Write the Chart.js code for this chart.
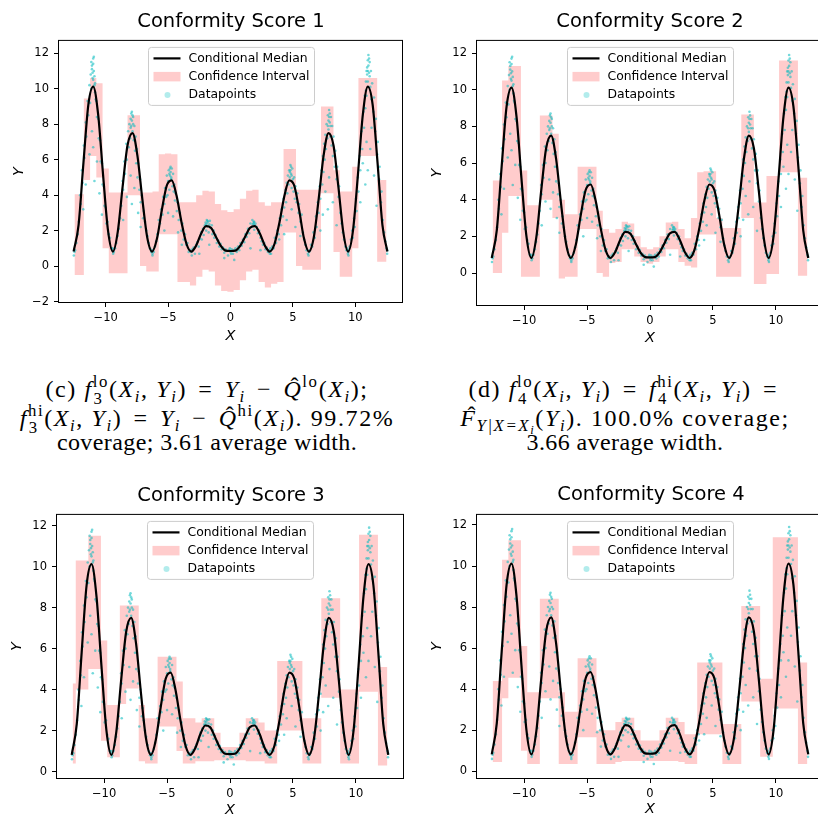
<!DOCTYPE html>
<html>
<head>
<meta charset="utf-8">
<script src="https://cdn.jsdelivr.net/npm/chart.js@4.4.1/dist/chart.umd.min.js"></script>
<style>
  html, body { margin: 0; padding: 0; background: #fff; }
  body { width: 818px; height: 819px; position: relative; overflow: hidden; font-family: "DejaVu Sans", sans-serif; }
  canvas { position: absolute; }
  .ttl { position: absolute; width: 300px; text-align: center; font-size: 19.5px; line-height: 22px; color: #000; white-space: nowrap; }
  .cap { position: absolute; width: 460px; text-align: center; font-family: "Liberation Serif", serif; font-size: 24px; line-height: 24px; white-space: nowrap; letter-spacing: 0.4px; color: #000; }
  .cap.math { letter-spacing: 1.6px; }
  .cap i { font-style: italic; }
  .op { margin: 0 0.15em; }
  .ss { position: relative; display: inline-block; font-size: 0.7em; line-height: 1; }
  .ss .a { position: relative; top: -0.62em; }
  .ss .b { position: absolute; left: 0.05em; top: 0.42em; }
  .sb { position: relative; top: 0.3em; font-size: 0.7em; font-style: italic; }
  .sb .sb2 { position: relative; top: 0.25em; font-size: 0.75em; }
  .sp { position: relative; top: -0.6em; font-size: 0.7em; }
  .hat { position: relative; display: inline-block; }
  .hc { position: absolute; left: 0.3em; top: -0.12em; font-style: normal; }
</style>
</head>
<body>
<canvas id="c1" width="410" height="320" style="left:0;top:28px"></canvas>
<canvas id="c2" width="420" height="320" style="left:410px;top:28px"></canvas>
<canvas id="c3" width="410" height="317" style="left:0;top:502px"></canvas>
<canvas id="c4" width="420" height="317" style="left:410px;top:502px"></canvas>

<div class="ttl" style="left:81px;top:10px">Conformity Score 1</div>
<div class="ttl" style="left:500px;top:10px">Conformity Score 2</div>
<div class="ttl" style="left:81px;top:484px">Conformity Score 3</div>
<div class="ttl" style="left:501px;top:483px">Conformity Score 4</div>

<div class="cap math" style="left:-23px;top:377px">(c) <i>f</i><span class="ss"><span class="a">lo</span><span class="b">3</span></span>(<i>X</i><span class="sb">i</span>, <i>Y</i><span class="sb">i</span>) <span class="op">=</span> <i>Y</i><span class="sb">i</span> <span class="op">−</span> <span class="hat"><i>Q</i><span class="hc">ˆ</span></span><span class="sp">lo</span>(<i>X</i><span class="sb">i</span>);</div>
<div class="cap math" style="left:-23px;top:406px"><i>f</i><span class="ss"><span class="a">hi</span><span class="b">3</span></span>(<i>X</i><span class="sb">i</span>, <i>Y</i><span class="sb">i</span>) <span class="op">=</span> <i>Y</i><span class="sb">i</span> <span class="op">−</span> <span class="hat"><i>Q</i><span class="hc">ˆ</span></span><span class="sp">hi</span>(<i>X</i><span class="sb">i</span>). 99.72%</div>
<div class="cap" style="left:-23px;top:430px">coverage; 3.61 average width.</div>

<div class="cap math" style="left:395px;top:377px">(d) <i>f</i><span class="ss"><span class="a">lo</span><span class="b">4</span></span>(<i>X</i><span class="sb">i</span>, <i>Y</i><span class="sb">i</span>) <span class="op">=</span> <i>f</i><span class="ss"><span class="a">hi</span><span class="b">4</span></span>(<i>X</i><span class="sb">i</span>, <i>Y</i><span class="sb">i</span>) <span class="op">=</span></div>
<div class="cap math" style="left:395px;top:406px"><span class="hat"><i>F</i><span class="hc">ˆ</span></span><span class="sb">Y|X=X<span class="sb2">i</span></span>(<i>Y</i><span class="sb">i</span>). 100.0% coverage;</div>
<div class="cap" style="left:395px;top:430px">3.66 average width.</div>

<script>
// conditional median
const medianX = [-12.57,-12.17,-11.78,-11.39,-11.00,-10.60,-10.21,-9.82,-9.42,-9.03,-8.64,-8.25,-7.85,-7.46,-7.07,-6.68,-6.28,-5.89,-5.50,-5.11,-4.71,-4.32,-3.93,-3.53,-3.14,-2.75,-2.36,-1.96,-1.57,-1.18,-0.79,-0.39,0,
  0.39,0.79,1.18,1.57,1.96,2.36,2.75,3.14,3.53,3.93,4.32,4.71,5.11,5.50,5.89,6.28,6.68,7.07,7.46,7.85,8.25,8.64,9.03,9.42,9.82,10.21,10.60,11.00,11.39,11.78,12.17,12.57];
const medianY = [0.82,2.33,5.83,9.09,10.12,8.52,5.16,2.04,0.82,1.94,4.49,6.81,7.50,6.24,3.82,1.65,0.82,1.55,3.16,4.53,4.83,3.96,2.49,1.26,0.82,1.16,1.82,2.25,2.16,1.67,1.15,0.87,0.85,
  0.87,1.15,1.67,2.16,2.25,1.82,1.16,0.82,1.26,2.49,3.96,4.83,4.53,3.16,1.55,0.82,1.65,3.82,6.24,7.50,6.81,4.49,1.94,0.82,2.04,5.16,8.52,10.12,9.09,5.83,2.33,0.82];

// confidence interval bins
const bandX = [-12.5,-12,-11.5,-11,-10.5,-10,-9.5,-9,-8.5,-8,-7.5,-7,-6.5,-6,-5.5,-5,-4.5,-4,-3.5,-3,-2.5,-2,-1.5,-1,-0.5,0,
  0.5,1,1.5,2,2.5,3,3.5,4,4.5,5,5.5,6,6.5,7,7.5,8,8.5,9,9.5,10,10.5,11,11.5,12,12.5];

const upper1 = [4.05,4.05,9.45,10.6,10.3,5.5,4.15,4.15,4.15,8.5,8.5,4.15,4.15,4.2,6.3,6.35,6.3,3.6,3.6,3.6,4.0,4.25,4.2,3.5,3.15,3.05,
  3.2,3.8,4.25,4.3,3.6,3.4,3.6,3.6,6.6,6.6,4.3,4.3,4.3,4.3,9.0,9.0,5.4,4.2,4.2,5.6,10.6,10.6,10.6,4.85,4.85];
const lower1 = [-0.5,-0.5,4.85,6.2,5.0,1.0,-0.4,-0.4,-0.4,4.0,4.0,0.0,-0.3,-0.3,1.8,1.8,1.8,-0.9,-0.9,-1.1,-0.6,-0.2,-0.3,-1.1,-1.4,-1.45,
  -1.35,-0.8,-0.3,-0.2,-0.9,-1.2,-1.0,-0.9,1.9,1.9,0.0,-0.2,-0.2,-0.2,4.1,4.1,0.8,-0.6,-0.6,1.0,6.2,6.2,6.2,0.25,0.25];

const upper2 = [5.05,5.05,10.5,11.3,11.3,5.6,3.7,3.7,8.6,8.6,7.6,4.0,3.2,3.2,5.8,5.8,5.8,3.4,2.4,2.2,2.4,2.8,2.7,2.0,1.4,1.3,
  1.4,2.0,2.75,2.8,2.4,1.9,3.0,5.5,5.55,5.55,3.0,2.45,2.45,2.45,8.65,8.65,3.85,3.85,5.3,5.3,11.6,11.6,11.6,5.2,5.2];
const lower2 = [0.0,0.0,2.2,4.2,4.2,-0.2,-0.2,-0.2,4.0,4.0,3.0,-0.3,-0.2,-0.2,2.4,2.4,2.4,0.0,-0.2,0.55,0.6,1.3,1.3,0.9,0.6,0.5,
  0.6,0.9,1.3,1.3,0.6,0.4,0.3,2.1,2.1,2.1,-0.2,-0.2,-0.2,-0.2,3.0,3.0,-0.6,-0.6,-0.05,-0.05,5.5,5.5,5.5,-0.15,-0.15];

const upper3 = [4.3,10.3,10.3,11.5,11.5,6.4,3.25,3.25,8.1,8.1,8.1,3.25,2.6,2.6,5.6,5.6,5.6,4.4,2.6,2.6,2.4,2.6,2.6,1.9,1.2,1.2,
  1.2,1.9,2.6,2.6,2.4,2.0,2.0,5.4,5.4,5.4,5.4,2.6,2.6,2.6,8.45,8.45,8.45,4.0,4.0,4.0,11.55,11.55,11.55,5.1,5.1];
const lower3 = [0.4,4.0,4.0,5.0,5.0,1.5,0.7,0.7,3.3,4.05,4.05,0.5,0.4,0.4,2.2,2.2,2.2,1.0,0.4,0.4,0.5,0.5,0.5,0.55,0.55,0.55,
  0.55,0.55,0.5,0.5,0.5,0.4,0.4,2.0,2.0,2.0,2.0,0.4,0.4,0.4,3.6,3.6,3.6,0.4,0.4,0.4,3.9,3.9,3.9,0.3,0.3];

const upper4 = [4.4,4.4,10.3,11.25,11.25,6.1,3.85,3.85,8.4,8.4,8.4,3.85,2.9,2.9,5.5,5.5,5.5,2.0,2.0,2.0,2.4,2.6,2.6,2.0,1.5,1.5,
  1.5,2.0,2.6,2.6,2.4,1.8,1.8,5.3,5.3,5.3,5.3,2.3,2.3,2.3,8.05,8.05,8.05,4.5,4.5,11.4,11.4,11.4,11.4,5.3,5.3];
const lower4 = [0.45,0.45,3.55,4.55,4.55,1.0,0.35,0.35,3.55,3.55,3.55,0.35,0.35,0.35,1.65,1.65,1.65,0.35,0.35,0.35,0.45,0.5,0.5,0.5,0.5,0.5,
  0.5,0.5,0.5,0.5,0.45,0.35,0.35,1.8,1.8,1.8,1.8,0.35,0.35,0.35,3.4,3.4,3.4,0.7,0.7,3.05,3.05,3.05,3.05,0.35,0.35];

// datapoints (a representative subset of the cloud)
const dataX = [
  -3.05,-2.95,-2.85,-2.75,-2.65,-2.55,-2.45,-2.35,-2.3,-2.2,
  -2.15,-2.05,-2.0,-1.95,-1.9,-1.85,-1.8,-1.75,-1.7,-1.65,
  -1.6,-1.5,-1.45,-1.35,-1.3,-1.2,-1.1,-1.0,-0.9,-0.8,
  -0.7,-0.6,-0.5,-0.4,-0.3,-0.2,-0.1,0.0,0.1,0.2,
  0.3,0.4,0.5,0.6,0.7,0.8,0.9,1.0,1.1,1.2,
  1.3,1.4,1.5,1.6,1.7,1.75,1.8,1.85,1.9,2.0,
  2.1,2.2,2.3,2.4,2.5,2.6,2.7,2.8,2.9,3.0,
  3.1,-0.5,0.3,1.6,-1.7,2.4,-2.5,
  3.25,3.35,3.45,3.55,3.65,3.75,3.85,3.95,4.05,4.1,
  4.2,4.25,4.3,4.4,4.45,4.5,4.55,4.6,4.65,4.7,
  4.75,4.8,4.85,4.9,4.95,5.0,5.05,5.1,5.15,5.2,
  5.3,5.35,5.45,5.5,5.6,5.7,5.8,5.9,6.0,6.1,
  6.2,4.5,4.9,5.2,4.3,3.9,5.6,
  -3.25,-3.35,-3.45,-3.55,-3.65,-3.75,-3.85,-3.95,-4.05,-4.15,
  -4.25,-4.3,-4.4,-4.45,-4.5,-4.55,-4.6,-4.65,-4.7,-4.75,
  -4.8,-4.85,-4.9,-4.95,-5.0,-5.05,-5.1,-5.15,-5.25,-5.3,
  -5.4,-5.45,-5.55,-5.65,-5.75,-5.85,-5.95,-6.05,-6.15,-6.25,
  -4.6,-5.0,-4.2,-5.3,-3.9,
  6.35,6.45,6.55,6.65,6.75,6.85,6.9,7.0,7.05,7.15,
  7.2,7.3,7.35,7.4,7.45,7.5,7.55,7.6,7.65,7.7,
  7.75,7.8,7.85,7.9,7.95,8.0,8.05,8.1,8.15,8.2,
  8.25,8.35,8.4,8.5,8.55,8.65,8.7,8.8,8.9,9.0,
  9.1,9.2,9.3,9.4,7.6,7.9,8.2,7.4,8.5,7.8,7.2,
  -6.35,-6.45,-6.55,-6.65,-6.75,-6.85,-6.95,-7.0,-7.1,-7.2,
  -7.25,-7.3,-7.4,-7.45,-7.5,-7.55,-7.6,-7.65,-7.7,-7.75,
  -7.8,-7.85,-7.9,-7.95,-8.0,-8.05,-8.1,-8.15,-8.2,-8.3,
  -8.35,-8.45,-8.5,-8.6,-8.65,-8.75,-8.85,-8.95,-9.05,-9.15,
  -9.25,-9.35,-7.7,-8.0,-7.4,-8.3,-7.9,-8.6,-7.2,
  9.45,9.55,9.65,9.75,9.8,9.9,9.95,10.05,10.1,10.2,
  10.25,10.35,10.4,10.5,10.55,10.65,10.7,10.75,10.8,10.85,
  10.9,10.95,11.0,11.05,11.1,11.15,11.2,11.25,11.3,11.35,
  11.45,11.5,11.6,11.65,11.75,11.8,11.9,11.95,12.05,12.1,
  12.2,12.3,12.4,12.5,12.55,10.6,10.9,11.2,11.0,11.5,
  10.4,11.7,10.8,11.3,
  -9.45,-9.55,-9.65,-9.75,-9.85,-9.95,-10.0,-10.1,-10.15,-10.25,
  -10.3,-10.4,-10.45,-10.55,-10.6,-10.7,-10.75,-10.8,-10.85,-10.9,
  -10.95,-11.0,-11.05,-11.1,-11.15,-11.2,-11.25,-11.3,-11.4,-11.45,
  -11.55,-11.6,-11.7,-11.75,-11.85,-11.9,-12.0,-12.05,-12.15,-12.25,
  -12.35,-12.45,-12.55,-10.7,-11.0,-11.3,-10.9,-11.6,-10.5,-11.8,
  -11.1,-10.3,
  11.0,10.95,11.05,10.9,11.1,11.0,10.85,11.15,-11.0,-10.95,-11.05,-10.9,-11.1,-11.0,-10.85,-11.15,
  7.9,7.85,7.95,8.0,7.8,-7.9,-7.85,-7.95,-8.0,-7.8,
  4.8,4.85,4.75,4.9,-4.8,-4.85,-4.75,-4.9,
  1.9,1.85,1.95,-1.9,-1.85,-1.95,
  9.4,9.45,9.35,-9.4,-9.45,6.3,6.25,-6.3,-6.25,3.15,3.2,-3.15,-3.1,12.55,-12.5,0.05,-0.05,0.15
];
const dataY = [
  0.95,1.05,0.7,1.2,1.35,1.1,1.55,1.9,1.5,2.1,
  1.75,2.3,2.45,2.0,2.6,2.25,2.5,1.9,2.35,2.55,
  2.15,2.3,1.8,2.0,1.6,1.75,1.3,1.45,1.1,1.25,
  0.95,1.05,0.75,0.95,0.85,0.6,0.9,0.8,0.95,0.7,
  0.9,1.0,0.8,1.1,0.9,1.3,1.15,1.5,1.35,1.8,
  1.65,2.1,1.85,2.4,2.2,2.6,2.35,2.5,2.05,2.4,
  2.2,1.85,2.0,1.6,1.4,1.2,1.3,0.95,1.05,0.8,
  0.9,0.45,0.35,1.0,1.2,0.9,0.7,
  0.7,1.1,1.0,1.6,1.3,2.0,1.8,2.7,2.3,3.2,
  2.8,3.8,3.3,4.3,3.6,4.7,4.1,5.1,4.6,5.4,
  5.0,5.7,5.2,4.4,5.5,4.9,4.2,5.0,3.8,4.5,
  3.6,4.1,3.0,3.5,2.5,2.9,1.9,1.5,1.2,0.9,
  0.7,2.6,3.2,2.2,1.8,1.5,1.7,
  0.9,0.8,1.3,1.2,1.8,1.5,2.4,2.0,3.0,2.6,
  3.6,3.1,4.1,3.7,4.6,4.2,5.2,4.5,5.5,4.9,
  5.6,5.1,4.3,5.4,4.8,4.0,5.1,3.9,4.4,3.5,
  3.9,2.9,3.2,2.4,2.6,1.8,1.4,1.1,0.8,0.6,
  2.8,3.0,1.9,2.0,1.2,
  0.9,1.2,1.1,1.9,1.6,2.8,2.2,3.6,3.0,4.5,
  3.8,5.4,4.6,6.2,5.3,6.9,6.0,7.4,6.6,8.0,
  7.2,8.5,7.7,8.8,8.1,7.3,8.4,6.8,7.9,6.2,
  7.3,5.6,6.5,4.9,5.6,3.9,4.5,3.0,2.4,1.9,
  1.5,1.1,0.9,0.7,4.2,5.0,3.6,2.9,2.3,3.2,2.0,
  0.8,1.0,1.3,1.7,2.0,2.5,3.1,2.7,4.0,3.6,
  4.9,4.3,5.8,5.0,6.6,5.8,7.3,6.5,7.9,7.1,
  8.4,7.6,8.7,7.9,8.3,7.2,8.0,6.7,7.6,6.0,
  6.9,5.2,5.9,4.3,4.8,3.4,2.7,2.1,1.7,1.3,
  1.0,0.8,4.4,5.1,3.0,3.9,3.5,2.6,2.2,
  0.8,1.1,1.5,2.0,1.6,2.7,2.2,3.8,3.1,5.0,
  4.2,6.2,5.4,7.6,6.6,8.7,7.8,9.6,8.9,10.4,
  9.6,11.2,10.4,11.9,10.9,11.5,10.1,11.0,9.4,10.3,
  8.7,9.5,7.6,8.3,6.3,7.0,4.9,5.6,3.6,4.2,
  2.6,1.9,1.4,1.0,0.7,5.8,7.0,6.6,5.4,5.1,
  3.6,3.4,4.6,7.8,
  0.9,1.0,1.6,1.8,2.5,2.4,3.3,3.4,4.5,4.6,
  5.8,5.9,7.1,7.2,8.3,8.4,9.3,9.4,10.3,10.2,
  11.0,11.7,10.6,11.3,10.0,10.8,9.2,10.2,8.5,9.3,
  7.3,8.1,6.1,6.8,4.7,5.4,3.5,4.0,2.5,1.8,
  1.3,0.9,0.6,5.9,6.7,6.3,4.8,4.6,4.1,3.2,
  7.6,2.9,
  11.6,10.8,11.3,11.0,11.7,11.0,9.9,10.7,11.4,11.8,10.9,10.7,11.1,10.5,9.8,11.5,
  8.4,8.2,8.6,7.9,7.9,8.2,8.5,8.6,7.8,8.0,
  5.4,5.6,5.3,5.1,5.3,5.5,5.0,5.2,
  2.5,2.4,2.3,2.4,2.55,2.3,
  0.9,0.6,1.0,0.7,1.0,0.8,0.6,0.9,0.7,0.7,1.0,0.8,0.6,0.9,0.8,0.7,1.0,0.85
];

const uppers = [upper1, upper2, upper3, upper4];
const lowers = [lower1, lower2, lower3, lower4];
const yRanges = [[-2.08, 12.75], [-1.80, 12.72], [-0.36, 12.57], [-0.38, 12.54]];

// layout of each panel (pixels)
const panels = [
  { id: 'c1', pad: { top: 5, right: 7, left: 0, bottom: 0 }, yW: 58, xH: 45, xTitlePad: 2.6, yTitlePad: 10.3 },
  { id: 'c2', pad: { top: 6, right: 6, left: 0, bottom: 0 }, yW: 66, xH: 42, xTitlePad: 1.3, yTitlePad: 18.6 },
  { id: 'c3', pad: { top: 7, right: 6, left: 0, bottom: 0 }, yW: 56, xH: 40, xTitlePad: 0.3, yTitlePad: 9 },
  { id: 'c4', pad: { top: 6, right: 6, left: 0, bottom: 0 }, yW: 66, xH: 40, xTitlePad: 0.8, yTitlePad: 18.6 }
];

const PINK = '#ffcccc';
const CYAN = 'rgba(0,186,190,0.55)';
const minus = v => String(v).replace('-', '\u2212');

// matplotlib-like frame on all four sides
const frame = {
  id: 'frame',
  afterDatasetsDraw(chart) {
    const { ctx, chartArea: a } = chart;
    ctx.save();
    ctx.strokeStyle = '#000';
    ctx.lineWidth = 1;
    ctx.strokeRect(a.left + 0.5, a.top + 0.5, a.right - a.left - 1, a.bottom - a.top - 1);
    ctx.restore();
  }
};

// legend box inside the axes, upper center
const boxLegend = {
  id: 'boxLegend',
  afterDraw(chart) {
    const { ctx, chartArea: a } = chart;
    const w = 166, h = 58;
    const x0 = Math.round((a.left + a.right) / 2 - w / 2) + 0.5;
    const y0 = a.top + 7.5;
    ctx.save();
    ctx.beginPath();
    ctx.roundRect(x0, y0, w, h, 3);
    ctx.fillStyle = 'rgba(255,255,255,0.8)';
    ctx.fill();
    ctx.strokeStyle = '#cccccc';
    ctx.lineWidth = 1;
    ctx.stroke();

    ctx.beginPath();
    ctx.moveTo(x0 + 5, y0 + 11);
    ctx.lineTo(x0 + 32, y0 + 11);
    ctx.strokeStyle = '#000';
    ctx.lineWidth = 2.2;
    ctx.stroke();

    ctx.fillStyle = PINK;
    ctx.fillRect(x0 + 5, y0 + 24.5, 27, 9.5);

    ctx.beginPath();
    ctx.arc(x0 + 19, y0 + 47.5, 3, 0, Math.PI * 2);
    ctx.fillStyle = 'rgba(0,191,191,0.3)';
    ctx.fill();

    ctx.fillStyle = '#000';
    ctx.font = '12.4px "DejaVu Sans"';
    ctx.textBaseline = 'middle';
    ctx.fillText('Conditional Median', x0 + 40, y0 + 11);
    ctx.fillText('Confidence Interval', x0 + 40, y0 + 29.5);
    ctx.fillText('Datapoints', x0 + 40, y0 + 47.5);
    ctx.restore();
  }
};

function makeChart(k) {
  const p = panels[k];
  const tickFont = { family: 'DejaVu Sans', size: 11.5 };
  const titleFont = { family: 'DejaVu Sans', size: 14.5, style: 'italic' };
  return new Chart(document.getElementById(p.id), {
    type: 'line',
    data: {
      datasets: [
        {
          type: 'line',
          data: medianX.map((x, i) => ({ x, y: medianY[i] })),
          borderColor: '#000',
          borderWidth: 2.2,
          pointRadius: 0,
          cubicInterpolationMode: 'monotone',
          fill: false,
          order: 0
        },
        {
          type: 'scatter',
          data: dataX.map((x, i) => ({ x, y: dataY[i] })),
          backgroundColor: CYAN,
          borderWidth: 0,
          pointRadius: 1.3,
          showLine: false,
          order: 1
        },
        {
          type: 'line',
          data: bandX.map((x, i) => ({ x, y: uppers[k][i] })),
          stepped: 'middle',
          borderColor: 'rgba(0,0,0,0)',
          borderWidth: 0,
          pointRadius: 0,
          backgroundColor: PINK,
          fill: '+1',
          order: 2
        },
        {
          type: 'line',
          data: bandX.map((x, i) => ({ x, y: lowers[k][i] })),
          stepped: 'middle',
          borderColor: 'rgba(0,0,0,0)',
          borderWidth: 0,
          pointRadius: 0,
          fill: false,
          order: 3
        }
      ]
    },
    options: {
      responsive: false,
      animation: false,
      events: [],
      layout: { padding: p.pad },
      plugins: { legend: { display: false }, tooltip: { enabled: false } },
      scales: {
        x: {
          type: 'linear',
          min: -13.82,
          max: 13.82,
          ticks: { stepSize: 5, includeBounds: false, color: '#000', font: tickFont, padding: 4, maxRotation: 0, callback: minus },
          grid: { drawOnChartArea: false, tickLength: 4, tickColor: '#000' },
          border: { display: false },
          title: { display: true, text: 'X', color: '#000', font: titleFont, padding: { top: 0, bottom: p.xTitlePad } },
          afterFit: s => { s.height = p.xH; }
        },
        y: {
          min: yRanges[k][0],
          max: yRanges[k][1],
          ticks: { stepSize: 2, includeBounds: false, color: '#000', font: tickFont, padding: 5, callback: minus },
          grid: { drawOnChartArea: false, tickLength: 4, tickColor: '#000' },
          border: { display: false },
          title: { display: true, text: 'Y', color: '#000', font: titleFont, padding: { top: p.yTitlePad, bottom: 0 } },
          afterFit: s => { s.width = p.yW; }
        }
      }
    },
    plugins: [frame, boxLegend]
  });
}

[0, 1, 2, 3].forEach(makeChart);
</script>
</body>
</html>
